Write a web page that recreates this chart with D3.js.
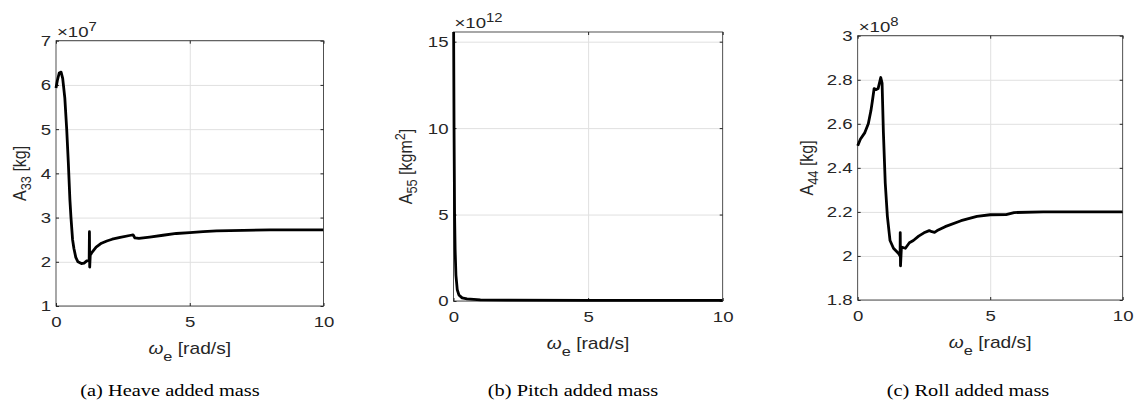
<!DOCTYPE html>
<html>
<head>
<meta charset="utf-8">
<script src="https://cdn.jsdelivr.net/npm/d3@7"></script>
<style>
  body { margin: 0; background: #fff; }
  svg { display: block; }
</style>
</head>
<body>
<div id="chart"></div>
<script>
// heave added mass A33 (x1e7 kg) vs encounter frequency
const heaveOmega = [0, 0.05, 0.12, 0.19, 0.25, 0.33, 0.40, 0.46, 0.52, 0.56, 0.62, 0.67, 0.74, 0.82, 0.95, 1.05, 1.15, 1.24, 1.25, 1.26, 1.28, 1.33, 1.5, 1.7, 1.9, 2.1, 2.4, 2.8, 2.88, 2.95, 3.1, 3.5, 4.0, 4.5, 5.0, 5.5, 6.0, 7.0, 8.0, 9.0, 10];
const heaveA33 = [5.93, 6.1, 6.27, 6.29, 6.15, 5.7, 5.0, 4.25, 3.4, 3.0, 2.5, 2.3, 2.1, 2.0, 1.96, 1.97, 2.02, 2.04, 2.68, 1.88, 2.15, 2.2, 2.33, 2.42, 2.47, 2.51, 2.55, 2.6, 2.61, 2.54, 2.53, 2.56, 2.6, 2.64, 2.66, 2.68, 2.7, 2.71, 2.72, 2.72, 2.72];

// pitch added mass A55 (x1e12 kgm^2)
const pitchOmega = [0.005, 0.02, 0.04, 0.06, 0.09, 0.14, 0.2, 0.32, 0.5, 1, 2, 5, 10];
const pitchA55 = [15.56, 10, 5, 3, 1.5, 0.65, 0.35, 0.18, 0.12, 0.07, 0.05, 0.04, 0.04];

// roll added mass A44 (x1e8 kg)
const rollOmega = [0, 0.1, 0.27, 0.4, 0.5, 0.55, 0.62, 0.7, 0.77, 0.87, 0.92, 0.97, 1.04, 1.12, 1.22, 1.35, 1.47, 1.55, 1.6, 1.605, 1.615, 1.65, 1.8, 1.95, 2.1, 2.3, 2.5, 2.7, 2.8, 2.9, 3.0, 3.3, 3.9, 4.5, 5.0, 5.6, 5.9, 7, 10];
const rollA44 = [2.5, 2.53, 2.56, 2.6, 2.66, 2.7, 2.76, 2.755, 2.76, 2.81, 2.785, 2.56, 2.33, 2.18, 2.07, 2.035, 2.02, 2.01, 2.0, 2.106, 1.955, 2.04, 2.035, 2.06, 2.07, 2.09, 2.105, 2.115, 2.11, 2.107, 2.115, 2.133, 2.16, 2.18, 2.187, 2.188, 2.197, 2.2, 2.2];

const xTicks = [0, 5, 10];
const heaveTicks = [1, 2, 3, 4, 5, 6, 7];
const pitchTicks = [0, 5, 10, 15];
const rollTicks = [1.8, 2, 2.2, 2.4, 2.6, 2.8, 3];
const captions = ["(a) Heave added mass", "(b) Pitch added mass", "(c) Roll added mass"];

const INK = "#262626";
const GRID = "#e0e0e0";
const SANS = "'Liberation Sans', Arial, Helvetica, sans-serif";
const SERIF = "'Liberation Serif', 'Times New Roman', serif";
const SX = 1.2;       // the figure text is a bit wider than tall
const TICK_FS = 15.5;
const LABEL_FS = 16;

const svg = d3.select("#chart").append("svg")
  .attr("width", 1137)
  .attr("height", 403);

const panels = [
  { left: 56, right: 323.5, top: 40.7, bottom: 306, omega: heaveOmega, values: heaveA33,
    yDomain: [1, 7], yTicks: heaveTicks, exponent: "7", sub: "33", unit: "kg", sup: null,
    yLabelX: 26, captionX: 170, caption: captions[0] },
  { left: 453.5, right: 722.7, top: 32, bottom: 301, omega: pitchOmega, values: pitchA55,
    yDomain: [0, 15.56], yTicks: pitchTicks, exponent: "12", sub: "55", unit: "kgm", sup: "2",
    yLabelX: 411.7, captionX: 573, caption: captions[1] },
  { left: 857.7, right: 1122.7, top: 35.7, bottom: 300, omega: rollOmega, values: rollA44,
    yDomain: [1.8, 3], yTicks: rollTicks, exponent: "8", sub: "44", unit: "kg", sup: null,
    yLabelX: 813.3, captionX: 968, caption: captions[2] }
];

function stretchText(sel, fs) {
  sel.selectAll("text")
    .attr("font-family", SANS)
    .attr("font-size", fs)
    .attr("fill", INK)
    .attr("transform", `scale(${SX},1)`);
}

function drawPanel(p, i) {
  const w = p.right - p.left;
  const h = p.bottom - p.top;
  const g = svg.append("g").attr("transform", `translate(${p.left},${p.top})`);

  const x = d3.scaleLinear().domain([0, 10]).range([0, w]);
  const y = d3.scaleLinear().domain(p.yDomain).range([h, 0]);

  // grid
  g.append("g")
    .call(d3.axisLeft(y).tickValues(p.yTicks).tickSize(-w).tickFormat(""))
    .call(a => a.select(".domain").remove())
    .call(a => a.selectAll("line").attr("stroke", GRID));
  g.append("g")
    .attr("transform", `translate(0,${h})`)
    .call(d3.axisBottom(x).tickValues([5]).tickSize(-h).tickFormat(""))
    .call(a => a.select(".domain").remove())
    .call(a => a.selectAll("line").attr("stroke", GRID));

  // box
  g.append("rect")
    .attr("width", w).attr("height", h)
    .attr("fill", "none").attr("stroke", INK).attr("stroke-width", 0.8);

  // ticks, inward on all four sides
  const pad = 5;
  const left = g.append("g")
    .call(d3.axisLeft(y).tickValues(p.yTicks).tickSize(-3).tickPadding(pad).tickFormat(d => d))
    .call(a => a.select(".domain").remove());
  stretchText(left, TICK_FS);
  left.selectAll("text").attr("x", -pad / SX);

  const bottom = g.append("g")
    .attr("transform", `translate(0,${h})`)
    .call(d3.axisBottom(x).tickValues(xTicks).tickSize(-3).tickPadding(10).tickFormat(d => d))
    .call(a => a.select(".domain").remove());
  stretchText(bottom, TICK_FS);

  g.append("g")
    .attr("transform", `translate(${w},0)`)
    .call(d3.axisRight(y).tickValues(p.yTicks).tickSize(-3).tickFormat(""))
    .call(a => a.select(".domain").remove());
  g.append("g")
    .call(d3.axisTop(x).tickValues(xTicks).tickSize(-3).tickFormat(""))
    .call(a => a.select(".domain").remove());
  g.selectAll(".tick line").filter(function () { return this.getAttribute("stroke") !== GRID; })
    .attr("stroke", INK);

  // curve
  const clipId = `clip${i}`;
  g.append("clipPath").attr("id", clipId)
    .append("rect").attr("x", -2).attr("width", w + 2).attr("height", h + 2);

  const line = d3.line()
    .x(d => x(d[0]))
    .y(d => y(d[1]));

  g.append("path")
    .datum(d3.zip(p.omega, p.values))
    .attr("clip-path", `url(#${clipId})`)
    .attr("d", line)
    .attr("fill", "none")
    .attr("stroke", "#000")
    .attr("stroke-width", 2.8)
    .attr("stroke-linejoin", "round");

  // exponent label
  const ex = svg.append("text")
    .attr("transform", `translate(${p.left + 1},${p.top - 4}) scale(${SX},1)`)
    .attr("font-family", SANS).attr("font-size", TICK_FS).attr("fill", INK);
  ex.append("tspan").text("\u00d710");
  ex.append("tspan").attr("dy", -6).attr("font-size", TICK_FS * 0.8).text(p.exponent);

  // y label
  const yl = svg.append("text")
    .attr("transform", `translate(${p.yLabelX},${(p.top + p.bottom) / 2}) scale(${SX},1) rotate(-90)`)
    .attr("text-anchor", "middle")
    .attr("font-family", SANS).attr("font-size", LABEL_FS).attr("fill", INK);
  yl.append("tspan").text("A");
  yl.append("tspan").attr("dy", 4).attr("font-size", LABEL_FS * 0.8).text(p.sub);
  yl.append("tspan").attr("dy", -4).text(" [" + p.unit);
  if (p.sup) yl.append("tspan").attr("dy", -6).attr("font-size", LABEL_FS * 0.8).text(p.sup);
  yl.append("tspan").attr("dy", p.sup ? 6 : 0).text("]");

  // x label
  const xl = svg.append("text")
    .attr("transform", `translate(${(p.left + p.right) / 2},${p.bottom + 48}) scale(${SX},1)`)
    .attr("text-anchor", "middle")
    .attr("font-family", SANS).attr("font-size", LABEL_FS).attr("fill", INK);
  xl.append("tspan").attr("font-style", "italic").text("\u03c9");
  xl.append("tspan").attr("dy", 7).attr("font-size", LABEL_FS * 0.85).text("e");
  xl.append("tspan").attr("dy", -7).text(" [rad/s]");

  // caption
  svg.append("text")
    .attr("transform", `translate(${p.captionX},396) scale(${SX},1)`)
    .attr("text-anchor", "middle")
    .attr("font-family", SERIF).attr("font-size", 17).attr("fill", "#000")
    .text(p.caption);
}

panels.forEach(drawPanel);
</script>
</body>
</html>
